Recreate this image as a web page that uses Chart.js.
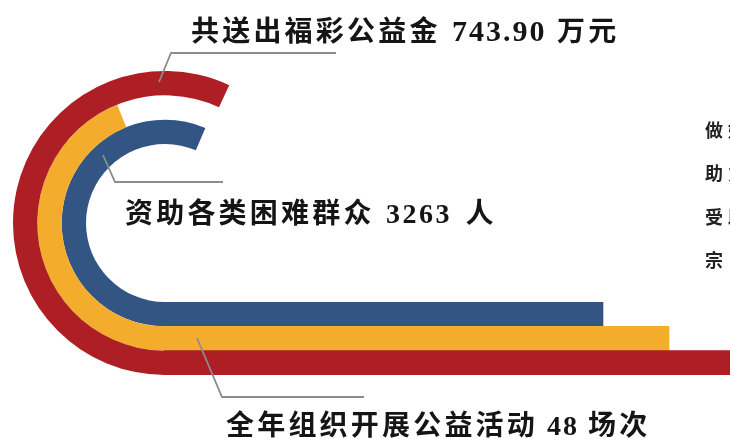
<!DOCTYPE html>
<html><head><meta charset="utf-8">
<script src="https://cdn.jsdelivr.net/npm/chart.js@4.4.1/dist/chart.umd.min.js"></script>
<style>
html,body{margin:0;padding:0;background:#fff;width:730px;height:443px;overflow:hidden;}
#wrap{position:relative;width:730px;height:443px;overflow:hidden;}
canvas{position:absolute;}
#ring{left:13px;top:71px;}
#bars{left:164px;top:302px;}
.lbl{position:absolute;white-space:nowrap;font-family:"Noto Sans CJK SC",sans-serif;font-weight:700;color:#151515;line-height:1;font-size:28px;letter-spacing:3.2px;}
.num{font-family:"Liberation Serif",serif;font-weight:700;}
svg{position:absolute;left:0;top:0;}
#side{position:absolute;left:705px;top:108px;font-family:"Noto Sans CJK SC",sans-serif;font-weight:700;font-size:18px;line-height:43.3px;letter-spacing:5px;color:#222;white-space:nowrap;}
</style></head>
<body><div id="wrap">
<canvas id="ring" width="304" height="304"></canvas>
<canvas id="bars" width="566" height="73"></canvas>
<svg width="730" height="443">
  <polyline points="159,82 171,53 336,53" fill="none" stroke="#8c8c8c" stroke-width="1.8"/>
  <polyline points="103,155 115,182 223,182" fill="none" stroke="#8c8c8c" stroke-width="1.8"/>
  <polyline points="197,338 222,397 364,397" fill="none" stroke="#8c8c8c" stroke-width="1.8"/>
</svg>
<div id="t0" class="lbl" style="left:191px;top:15px;"></div>
<div id="t1" class="lbl" style="left:125px;top:197px;"></div>
<div id="t2" class="lbl" style="left:226px;top:409px;"></div>
<div id="side"></div>
</div>
<script>
// ---- data ----
const categories = ['共送出福彩公益金', '资助各类困难群众', '全年组织开展公益活动'];
const figures = ['743.90', '3263', '48'];
const units = ['万元', '人', '场次'];
// ring sweeps (degrees, from bottom going clockwise over the left side): red, yellow, blue
const ringNames = ['福彩公益金', '公益活动', '困难群众'];
const ringSweepDeg = [205, 158, 203];
// horizontal bar lengths (top to bottom): blue, yellow, red
const barNames = ['困难群众', '公益活动', '福彩公益金'];
const barLengths = [439, 505, 566];
const sideLines = ['做好', '助力', '受助', '宗旨'];

// ---- styles ----
const RED = '#ad1f25', YELLOW = '#f4ac2c', BLUE = '#335583';
const ringColors = [RED, YELLOW, BLUE];
const barColors = [BLUE, YELLOW, RED];
const numSizes = ['30px', '28px', '28px'];
const numSpacing = ['2px', '2.5px', '2px'];
const numPad = ['0 1px 0 2px', '0 4px 0 2px', '0'];

categories.forEach((c, i) => {
  const el = document.getElementById('t' + i);
  el.appendChild(document.createTextNode(c));
  const s = document.createElement('span');
  s.className = 'num';
  s.style.fontSize = numSizes[i];
  s.style.letterSpacing = numSpacing[i];
  s.style.padding = numPad[i];
  s.textContent = ' ' + figures[i] + ' ';
  el.appendChild(s);
  el.appendChild(document.createTextNode(units[i]));
});
document.getElementById('side').innerHTML = sideLines.map(t => '<div>' + t + '</div>').join('');

new Chart(document.getElementById('ring'), {
  type: 'doughnut',
  data: {
    labels: ['arc', 'rest'],
    datasets: ringSweepDeg.map((d, i) => ({
      label: ringNames[i],
      data: [d, 360 - d],
      backgroundColor: [ringColors[i], 'rgba(0,0,0,0)'],
      borderWidth: 0, offset: 0, hoverOffset: 0, weight: 1
    }))
  },
  options: {
    responsive: false, animation: false, events: [],
    cutout: 79, rotation: 180, circumference: 360,
    layout: { padding: 0 },
    plugins: { legend: { display: false }, tooltip: { enabled: false } }
  }
});

new Chart(document.getElementById('bars'), {
  type: 'bar',
  data: {
    labels: barNames,
    datasets: [{ data: barLengths, backgroundColor: barColors, borderWidth: 0, barPercentage: 1, categoryPercentage: 1 }]
  },
  options: {
    indexAxis: 'y', responsive: false, animation: false, events: [],
    layout: { padding: 0 },
    scales: { x: { display: false, min: 0, max: 566 }, y: { display: false } },
    plugins: { legend: { display: false }, tooltip: { enabled: false } }
  }
});
</script>
</body></html>
